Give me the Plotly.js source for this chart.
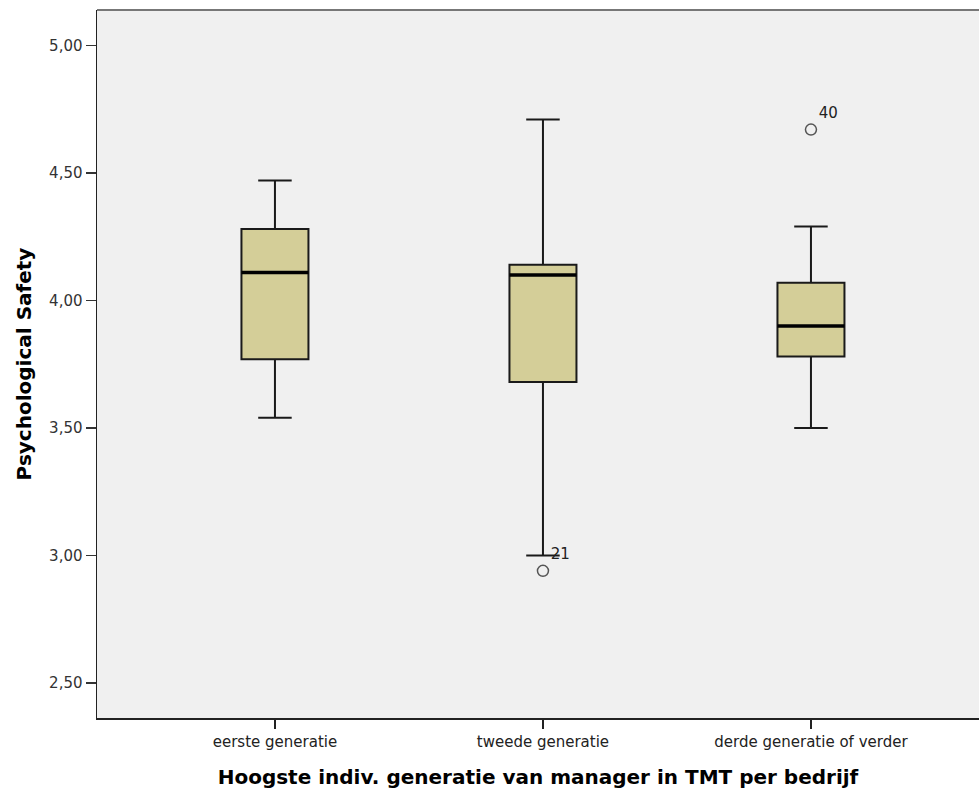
<!DOCTYPE html>
<html>
<head>
<meta charset="utf-8">
<script src="https://cdn.plot.ly/plotly-3.0.1.min.js"></script>
<style>html,body{margin:0;padding:0;background:#fff;}#chart{width:979px;height:794px;}</style>
</head>
<body>
<div id="chart"></div>
<script>
const categories = ["eerste generatie", "tweede generatie", "derde generatie of verder"];
const lowerWhisker = [3.54, 3.00, 3.50];
const q1Values = [3.77, 3.68, 3.78];
const medianValues = [4.11, 4.10, 3.90];
const q3Values = [4.28, 4.14, 4.07];
const upperWhisker = [4.47, 4.71, 4.29];
const outlierGroup = [1, 2];
const outlierValues = [2.94, 4.67];
const outlierLabels = ["21", "40"];
const yTicks = [2.5, 3.0, 3.5, 4.0, 4.5, 5.0];

const idx = categories.map((c, i) => i);
const boxWidth = 0.25;
const FONT = 'DejaVu Sans, Verdana, sans-serif';

const boxTrace = {
  type: 'box',
  x: idx,
  q1: q1Values,
  median: medianValues,
  q3: q3Values,
  lowerfence: lowerWhisker,
  upperfence: upperWhisker,
  width: boxWidth,
  whiskerwidth: 0.5,
  fillcolor: '#d4ce98',
  line: {color: '#1a1a1a', width: 2},
  boxpoints: false,
  hoverinfo: 'skip',
  showlegend: false
};

// thick median lines
const mx = [], my = [];
idx.forEach(i => {
  mx.push(i - boxWidth / 2, i + boxWidth / 2, null);
  my.push(medianValues[i], medianValues[i], null);
});
const medianTrace = {
  type: 'scatter', mode: 'lines', x: mx, y: my,
  line: {color: '#000', width: 3.5}, hoverinfo: 'skip', showlegend: false
};

const outlierTrace = {
  type: 'scatter', mode: 'markers+text',
  x: outlierGroup, y: outlierValues, text: outlierLabels,
  textposition: 'top right',
  textfont: {family: FONT, size: 15, color: '#222'},
  marker: {symbol: 'circle-open', size: 11, color: '#555', line: {width: 1.5, color: '#555'}},
  hoverinfo: 'skip', showlegend: false, cliponaxis: false
};

const layout = {
  width: 979, height: 794,
  margin: {l: 97, r: 0, t: 10, b: 76},
  paper_bgcolor: '#ffffff',
  plot_bgcolor: '#f0f0f0',
  separators: ',.',
  font: {family: FONT, color: '#222'},
  xaxis: {
    range: [-0.664, 2.627],
    tickvals: idx, ticktext: categories,
    ticks: 'outside', ticklen: 9, tickwidth: 1.5, tickcolor: '#222',
    showgrid: false, zeroline: false,
    showline: true, linecolor: '#222', linewidth: 1.5,
    tickfont: {family: FONT, size: 15, color: '#222'},
    title: {text: 'Hoogste indiv. generatie van manager in TMT per bedrijf',
            font: {family: FONT, size: 20, color: '#000', weight: 'bold'}, standoff: 20}
  },
  yaxis: {
    range: [2.363, 5.139],
    tickvals: yTicks, tickformat: '.2f',
    ticks: 'outside', ticklen: 10, tickwidth: 1.5, tickcolor: '#333',
    showgrid: false, zeroline: false,
    showline: true, linecolor: '#222', linewidth: 1.5,
    tickfont: {family: FONT, size: 15, color: '#333'},
    title: {text: 'Psychological Safety', font: {family: FONT, size: 20, color: '#000', weight: 'bold'}, standoff: 12}
  },
  shapes: [{type: 'line', xref: 'paper', yref: 'paper', x0: 0, x1: 1, y0: 1, y1: 1,
            line: {color: '#777', width: 2}}]
};

Plotly.newPlot('chart', [boxTrace, medianTrace, outlierTrace], layout, {displayModeBar: false, staticPlot: true});
</script>
</body>
</html>
